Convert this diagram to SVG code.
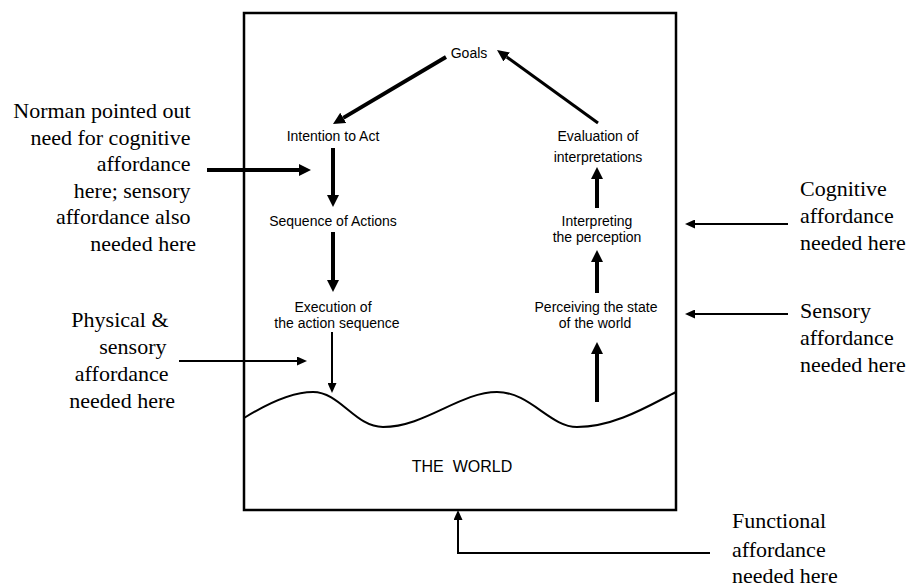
<svg xmlns="http://www.w3.org/2000/svg" width="909" height="587" viewBox="0 0 909 587">
<style>
.s{font-family:"Liberation Sans",Arial,sans-serif;font-size:14px;fill:#000;text-anchor:middle}
.r{font-family:"Liberation Serif","Times New Roman",serif;font-size:22px;fill:#000}
.thick{stroke:#000;stroke-width:4;fill:none}
.med{stroke:#000;stroke-width:3;fill:none}
.thin{stroke:#000;stroke-width:2;fill:none}
</style>
<defs>
<marker id="ah" markerUnits="userSpaceOnUse" markerWidth="12" markerHeight="12" refX="0" refY="6" orient="auto"><path d="M0,0 L12,6 L0,12 z" fill="#000"/></marker>
<marker id="am" markerUnits="userSpaceOnUse" markerWidth="12" markerHeight="11" refX="0" refY="5.5" orient="auto"><path d="M0,0 L12,5.5 L0,11 z" fill="#000"/></marker>
<marker id="at" markerUnits="userSpaceOnUse" markerWidth="10" markerHeight="9" refX="0" refY="4.5" orient="auto"><path d="M0,0 L10,4.5 L0,9 z" fill="#000"/></marker>
</defs>
<rect width="909" height="587" fill="#fff"/>
<g id="world">
<rect x="244" y="13" width="432" height="497" fill="none" stroke="#000" stroke-width="2.5"/>
<path d="M244,418 C265,405 290,392 313,392 C340,392 355,427 383,427 C425,427 460,392 497,392 C530,392 550,427 577,427 C615,427 650,405 676,392" fill="none" stroke="#000" stroke-width="2"/>
<text class="s" x="462" y="472" style="font-size:16px" xml:space="preserve">THE  WORLD</text>
</g>
<g id="goals"><text class="s" x="469" y="58">Goals</text></g>
<g id="intention"><text class="s" x="333" y="141">Intention to Act</text></g>
<g id="sequence"><text class="s" x="333" y="226">Sequence of Actions</text></g>
<g id="execution"><text class="s" x="333" y="312">Execution of</text><text class="s" x="337" y="328">the action sequence</text></g>
<g id="evaluation"><text class="s" x="598" y="141">Evaluation of</text><text class="s" x="598" y="162">interpretations</text></g>
<g id="interpreting"><text class="s" x="597" y="226">Interpreting</text><text class="s" x="597" y="242">the perception</text></g>
<g id="perceiving"><text class="s" x="596" y="312">Perceiving the state</text><text class="s" x="595" y="328">of the world</text></g>
<g id="note-norman"><text class="r" text-anchor="end">
<tspan x="196" y="118">Norman pointed out</tspan>
<tspan x="196" y="145">need for cognitive</tspan>
<tspan x="196" y="171">affordance</tspan>
<tspan x="196" y="198">here; sensory</tspan>
<tspan x="196" y="224">affordance also</tspan>
<tspan x="196" y="251">needed here</tspan></text></g>
<g id="note-physical"><text class="r" text-anchor="end">
<tspan x="174" y="327">Physical &amp;</tspan>
<tspan x="172" y="354">sensory</tspan>
<tspan x="174" y="381">affordance</tspan>
<tspan x="175" y="408">needed here</tspan></text></g>
<g id="note-cognitive"><text class="r">
<tspan x="800" y="196">Cognitive</tspan>
<tspan x="800" y="223">affordance</tspan>
<tspan x="800" y="250">needed here</tspan></text></g>
<g id="note-sensory"><text class="r">
<tspan x="800" y="318">Sensory</tspan>
<tspan x="800" y="345">affordance</tspan>
<tspan x="800" y="372">needed here</tspan></text></g>
<g id="note-functional"><text class="r">
<tspan x="732" y="528">Functional</tspan>
<tspan x="732" y="557">affordance</tspan>
<tspan x="732" y="583">needed here</tspan></text></g>
<g id="connectors">
<line class="thick" x1="446" y1="57" x2="343.3" y2="117.9" marker-end="url(#ah)"/>
<line class="med" x1="598" y1="123" x2="506.7" y2="57" marker-end="url(#am)"/>
<line class="thick" x1="333" y1="148" x2="333" y2="195" marker-end="url(#ah)"/>
<line class="thick" x1="333" y1="232" x2="333" y2="280" marker-end="url(#ah)"/>
<line class="thin" x1="332" y1="332" x2="332" y2="383" marker-end="url(#at)"/>
<line class="thick" x1="597" y1="402" x2="597" y2="354" marker-end="url(#ah)"/>
<line class="thick" x1="597" y1="293" x2="597" y2="262" marker-end="url(#ah)"/>
<line class="thick" x1="597" y1="208" x2="597" y2="179" marker-end="url(#ah)"/>
<line class="thick" x1="207" y1="170" x2="299" y2="170" marker-end="url(#ah)"/>
<line class="thin" x1="179" y1="361" x2="297" y2="361" marker-end="url(#at)"/>
<line class="thin" x1="788" y1="224" x2="695" y2="224" marker-end="url(#at)"/>
<line class="thin" x1="788" y1="314" x2="695" y2="314" marker-end="url(#at)"/>
<polyline class="thin" points="710,553 458,553 458,520" marker-end="url(#at)"/>
</g>
</svg>
